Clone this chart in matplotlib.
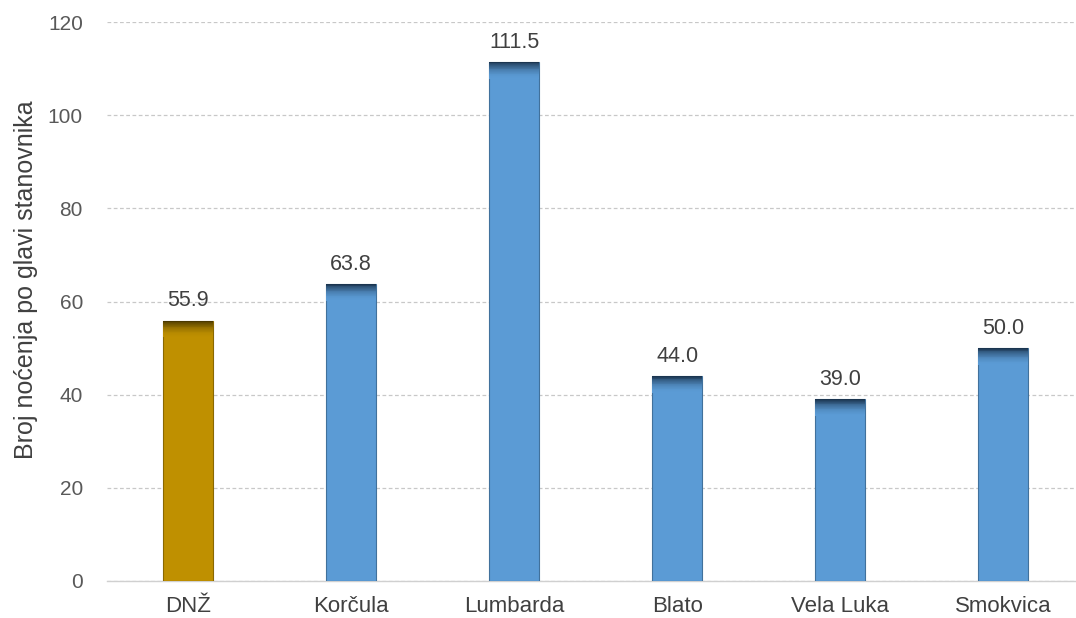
import matplotlib
matplotlib.use("Agg")
import matplotlib.pyplot as plt
import numpy as np

categories = ["DNŽ", "Korčula", "Lumbarda", "Blato", "Vela Luka", "Smokvica"]
values = [55.9, 63.8, 111.5, 44.0, 39.0, 50.0]
bar_colors = ["#BF9000", "#5B9BD5", "#5B9BD5", "#5B9BD5", "#5B9BD5", "#5B9BD5"]
top_colors = ["#4A3800", "#1B3550", "#1B3550", "#1B3550", "#1B3550", "#1B3550"]
edge_colors = ["#8A6800", "#41719C", "#41719C", "#41719C", "#41719C", "#41719C"]
yticks = [0, 20, 40, 60, 80, 100, 120]
ylabel = "Broj noćenja po glavi stanovnika"

plt.rcParams['font.family'] = ['Liberation Sans', 'DejaVu Sans']
fig = plt.figure(figsize=(10.76, 6.18), dpi=100)
ax = fig.add_axes([0.099, 0.06, 0.909, 0.904])

x = np.arange(len(categories))
w = 0.31
ax.bar(x, values, width=w, color=bar_colors, edgecolor=edge_colors,
       linewidth=0.8, zorder=3)

# top bevel gradient
band = 3.6
steps = 20
for i, (v, bc, tc) in enumerate(zip(values, bar_colors, top_colors)):
    c0 = np.array(matplotlib.colors.to_rgb(bc))
    c1 = np.array(matplotlib.colors.to_rgb(tc))
    for k in range(steps):
        t = ((k + 1) / steps) ** 2.0
        col = c0 * (1 - t) + c1 * t
        ax.bar(x[i], band / steps, bottom=v - band + k * band / steps, width=w,
               color=col, linewidth=0, zorder=4)

for xi, v in zip(x, values):
    ax.text(xi, v + 2.0, f"{v:.1f}", ha="center", va="bottom", fontsize=15.5,
            color="#404040", zorder=5)

ax.set_ylim(0, 120)
ax.set_xlim(-0.5, len(categories) - 0.5)
ax.set_yticks(yticks)
ax.set_xticks(x)
ax.set_xticklabels(categories, fontsize=16, color="#404040")
ax.tick_params(axis='y', labelsize=15, labelcolor="#595959", length=0, pad=17)
ax.tick_params(axis='x', length=0, pad=11)
ax.set_ylabel(ylabel, fontsize=18, color="#404040")
ax.yaxis.set_label_coords(-0.070, 0.54)

ax.yaxis.grid(True, linestyle=(0, (3, 2)), color="#C8C8C8", linewidth=0.9, zorder=0)
for s in ["top", "right", "left"]:
    ax.spines[s].set_visible(False)
ax.spines["bottom"].set_color("#D0D0D0")
ax.spines["bottom"].set_linewidth(1.0)

fig.savefig("out.png", dpi=100, facecolor="white")
